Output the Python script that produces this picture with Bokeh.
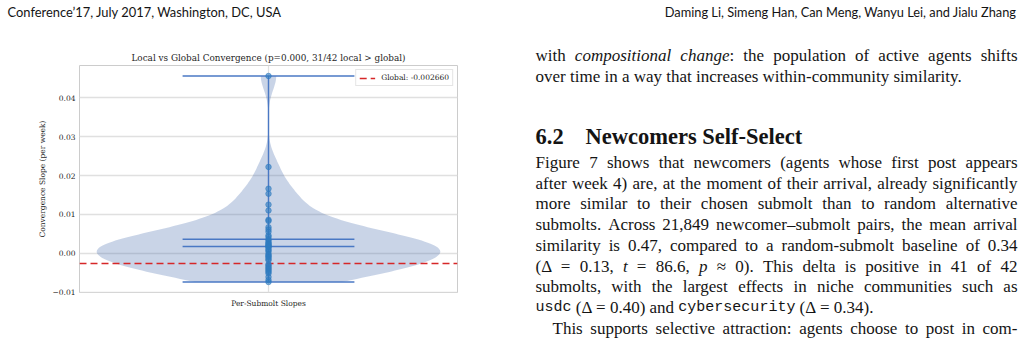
import numpy as np
from bokeh.plotting import figure
from bokeh.layouts import column, row
from bokeh.models import Label, FixedTicker, Legend, LegendItem, Range1d
from bokeh.embed import file_html
from bokeh.resources import INLINE

# ---------------- data ----------------
TITLE = "Local vs Global Convergence (p=0.000, 31/42 local > global)"
CATEGORY = "Per-Submolt Slopes"
Y_LABEL = "Convergence Slope (per week)"
SLOPES = [0.0456, 0.0222, 0.0166, 0.0153, 0.0125, 0.0110, 0.0086, 0.0083,
          0.0067, 0.0061, 0.0055, 0.0046, 0.0042, 0.0036, 0.0032, 0.0028,
          0.0025, 0.0023, 0.0020, 0.0018, 0.0017, 0.0016, 0.0011, 0.0008,
          0.0004, -0.0002, -0.0005, -0.0008, -0.0011, -0.0015, -0.0018,
          -0.0028, -0.0031, -0.0035, -0.0038, -0.0041, -0.0045, -0.0048,
          -0.0052, -0.0061, -0.0069, -0.0074]
GLOBAL_SLOPE = -0.002660
MEAN_SLOPE = 0.00359
MEDIAN_SLOPE = 0.00172
LEGEND_LABEL = "Global: -0.002660"
Y_TICKS = [-0.01, 0.0, 0.01, 0.02, 0.03, 0.04]
Y_TICK_LABELS = ["\u22120.01", "0.00", "0.01", "0.02", "0.03", "0.04"]

HEADER_LEFT = "Conference\u201917, July 2017, Washington, DC, USA"
HEADER_RIGHT = "Daming Li, Simeng Han, Can Meng, Wanyu Lei, and Jialu Zhang"
HEADING_NUM = "6.2"
HEADING_TEXT = "Newcomers Self-Select"
# (text, justified?, indented first line?)
BODY_TOP = [
    ("with *compositional* *change*: the population of active agents shifts", True, False),
    ("over time in a way that increases within-community similarity.", False, False),
]
BODY = [
    ("Figure 7 shows that newcomers (agents whose first post appears", True, False),
    ("after week 4) are, at the moment of their arrival, already significantly", True, False),
    ("more similar to their chosen submolt than to random alternative", True, False),
    ("submolts. Across 21,849 newcomer\u2013submolt pairs, the mean arrival", True, False),
    ("similarity is 0.47, compared to a random-submolt baseline of 0.34", True, False),
    ("(\u0394 = 0.13, *t* = 86.6, *p* \u2248 0). This delta is positive in 41 of 42", True, False),
    ("submolts, with the largest effects in niche communities such as", True, False),
    ("`usdc` (\u0394 = 0.40) and `cybersecurity` (\u0394 = 0.34).", False, False),
    ("This supports selective attraction: agents choose to post in com-", True, True),
]

# ---------------- geometry / style ----------------
W, H = 1024, 339
HEAD_H = 24
HALF = 512
FL, FR, FT, FB = 79, 457, 65, 292      # chart frame in page pixels
XLIM = (0.725, 1.275)
YLIM = (-0.0101, 0.0483)
VIOLIN_HALF = 0.25
CAP_HALF = 0.125
KDE_BW_FACTOR = 0.38
TEXT_DY = -4.5

SERIF = "DejaVu Serif"
CHART_TEXT = "#262626"
VIOLIN_BLUE = "#4c72b0"
LINE_BLUE = "#4a78c4"
POINT_BLUE = "#2f7bbf"
RED = "#d62728"

# ---------------- chart ----------------
p = figure(width=HALF, height=H - HEAD_H, x_range=Range1d(*XLIM), y_range=Range1d(*YLIM),
           output_backend="svg", toolbar_location=None, frame_align=False,
           min_border_left=FL, min_border_right=HALF - FR,
           min_border_top=FT - HEAD_H, min_border_bottom=H - FB)
p.background_fill_color = "white"
p.border_fill_color = "white"
p.outline_line_color = "#cccccc"
p.outline_line_width = 1

p.title.text = TITLE
p.title.align = "center"
p.title.text_font = SERIF
p.title.text_font_size = "8.85px"
p.title.text_font_style = "normal"
p.title.text_color = CHART_TEXT
p.title.standoff = 6

p.xaxis.ticker = FixedTicker(ticks=[1])
p.xaxis.major_label_overrides = {1: CATEGORY}
p.yaxis.ticker = FixedTicker(ticks=Y_TICKS)
p.yaxis.major_label_overrides = {t: l for t, l in zip(Y_TICKS, Y_TICK_LABELS)}
p.yaxis.axis_label = Y_LABEL
for ax in (p.xaxis[0], p.yaxis[0]):
    ax.axis_line_color = None
    ax.major_tick_line_color = None
    ax.minor_tick_line_color = None
    ax.major_tick_out = 0
    ax.major_tick_in = 0
    ax.minor_tick_out = 0
    ax.major_label_text_font = SERIF
    ax.major_label_text_font_size = "7.5px"
    ax.major_label_text_color = CHART_TEXT
p.xaxis.major_label_standoff = 6
p.yaxis.major_label_standoff = 4
p.yaxis.axis_label_text_font = SERIF
p.yaxis.axis_label_text_font_size = "7.5px"
p.yaxis.axis_label_text_font_style = "normal"
p.yaxis.axis_label_text_color = CHART_TEXT
p.yaxis.axis_label_standoff = 3

p.xgrid.ticker = FixedTicker(ticks=[1])
p.ygrid.ticker = FixedTicker(ticks=Y_TICKS)
for g in (p.xgrid[0], p.ygrid[0]):
    g.grid_line_color = "#e0e0e0"
    g.grid_line_width = 1.3

# violin (Gaussian KDE, clipped to data range)
data = np.array(SLOPES)
bw = KDE_BW_FACTOR * data.std(ddof=1)
ys = np.linspace(data.min(), data.max(), 200)
dens = np.exp(-0.5 * ((ys[:, None] - data[None, :]) / bw) ** 2).sum(axis=1)
hw = VIOLIN_HALF * dens / dens.max()
p.patch(np.concatenate([1 + hw, (1 - hw)[::-1]]), np.concatenate([ys, ys[::-1]]),
        fill_color=VIOLIN_BLUE, fill_alpha=0.3, line_color=None)

gl = p.line(x=list(XLIM), y=[GLOBAL_SLOPE, GLOBAL_SLOPE], line_color=RED,
            line_width=1.5, line_dash="7 4")

stats = [data.min(), data.max(), MEAN_SLOPE, MEDIAN_SLOPE]
p.segment(x0=[1 - CAP_HALF] * 4, x1=[1 + CAP_HALF] * 4, y0=stats, y1=stats,
          line_color=LINE_BLUE, line_width=1.4)
p.segment(x0=[1], x1=[1], y0=[data.min()], y1=[data.max()],
          line_color=LINE_BLUE, line_width=1.4)

p.scatter(x=[1] * len(SLOPES), y=SLOPES, size=5.5, fill_color=POINT_BLUE,
          fill_alpha=0.6, line_color=POINT_BLUE, line_alpha=0.6)

legend = Legend(items=[LegendItem(label=LEGEND_LABEL, renderers=[gl])],
                location="top_right", margin=4, padding=3, spacing=0,
                label_text_font=SERIF, label_text_font_size="7.5px",
                label_text_color=CHART_TEXT, label_height=8, glyph_height=8,
                glyph_width=16, label_standoff=6,
                border_line_color="#cccccc", border_line_width=1,
                background_fill_alpha=0.8)
p.add_layout(legend)


# ---------------- page text ----------------
def blank(width, height, xr, yr):
    f = figure(width=width, height=height, x_range=Range1d(*xr), y_range=Range1d(*yr),
               output_backend="svg", toolbar_location=None, frame_align=False,
               x_axis_location=None, y_axis_location=None,
               min_border_left=0, min_border_right=0, min_border_top=0,
               min_border_bottom=0)
    f.outline_line_color = None
    f.xgrid.visible = False
    f.ygrid.visible = False
    f.background_fill_color = "white"
    f.border_fill_color = "white"
    return f


head = blank(W, HEAD_H, (0, W), (HEAD_H, 0))
body = blank(W - HALF, H - HEAD_H, (HALF, W), (H, HEAD_H))

ROMAN = dict(zip("abcdefghijklmnopqrstuvwxyz",
                 [444, 500, 444, 500, 444, 333, 500, 500, 278, 278, 500, 278, 778,
                  500, 500, 500, 500, 333, 389, 278, 500, 500, 722, 500, 500, 444]))
ROMAN.update(zip("ABCDEFGHIJKLMNOPQRSTUVWXYZ",
                 [722, 667, 667, 722, 611, 556, 722, 722, 333, 389, 722, 611, 889,
                  722, 722, 556, 722, 667, 556, 611, 722, 722, 944, 722, 722, 611]))
ROMAN.update({c: 500 for c in "0123456789"})
ROMAN.update({" ": 250, ",": 250, ".": 250, ":": 278, ";": 278, "(": 333, ")": 333,
              "-": 333, "\u2013": 500, "=": 564, "\u0394": 612, "\u2248": 549,
              "\u2019": 333})
ITALIC = dict(ROMAN)
ITALIC.update(zip("abcdefghijklmnopqrstuvwxyz",
                  [500, 500, 444, 500, 444, 278, 500, 500, 278, 278, 444, 278, 722,
                   500, 500, 500, 500, 389, 389, 278, 500, 444, 667, 444, 444, 389]))

BODY_SIZE = 17
MONO_SIZE = 15
TEXT_COLOR = "#141414"
COL_L, COL_R, INDENT = 535, 1017, 552


def seg_width(t, style):
    if style == "m":
        return 0.6 * MONO_SIZE * len(t)
    tab = ITALIC if style == "i" else ROMAN
    return sum(tab.get(c, 500) for c in t) / 1000 * BODY_SIZE


def parse_word(w):
    segs, style, buf = [], "r", ""
    for ch in w:
        if ch in "*`":
            if buf:
                segs.append((buf, style))
                buf = ""
            mark = "i" if ch == "*" else "m"
            style = "r" if style == mark else mark
        else:
            buf += ch
    if buf:
        segs.append((buf, style))
    return segs


def add_text(fig, text, X, Y, font, size, style="normal", align="left"):
    fig.add_layout(Label(x=X, y=Y + TEXT_DY, text=text, text_font=font,
                         text_font_size=f"{size}px", text_font_style=style,
                         text_color=TEXT_COLOR, text_align=align,
                         text_baseline="alphabetic"))


def add_line(spec, x0, base, justify):
    words = [parse_word(w) for w in spec.split(" ")]
    widths = [sum(seg_width(t, s) for t, s in w) for w in words]
    gap = 0.25 * BODY_SIZE
    if justify and len(words) > 1:
        gap = max(gap * 0.6, (COL_R - x0 - sum(widths)) / (len(words) - 1))
    x = x0
    for w, wd in zip(words, widths):
        xx = x
        for t, s in w:
            if s == "m":
                add_text(body, t, xx, base, "Liberation Mono", MONO_SIZE)
            else:
                add_text(body, t, xx, base, "Liberation Serif", BODY_SIZE,
                         "italic" if s == "i" else "normal")
            xx += seg_width(t, s)
        x += wd + gap


add_text(head, HEADER_LEFT, 7, 16, "Lato", 12.9)
add_text(head, HEADER_RIGHT, 1016, 16, "Lato", 12.8, align="right")

LINE_STEP = 20.7
for i, (spec, just, ind) in enumerate(BODY_TOP):
    add_line(spec, INDENT if ind else COL_L, 59.3 + i * LINE_STEP, just)
add_text(body, HEADING_NUM, COL_L, 140, "Liberation Serif", 22.5, "bold")
add_text(body, HEADING_TEXT, 585, 140, "Liberation Serif", 22.5, "bold")
for i, (spec, just, ind) in enumerate(BODY):
    add_line(spec, INDENT if ind else COL_L, 166.5 + i * LINE_STEP, just)

page = column(head, row(p, body, spacing=0), spacing=0)
open("out.html", "w").write(file_html(page, INLINE))
